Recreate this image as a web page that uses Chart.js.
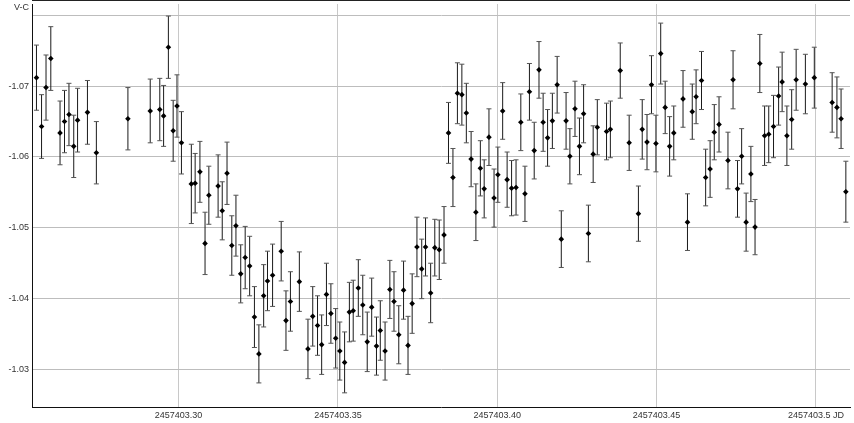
<!DOCTYPE html>
<html>
<head>
<meta charset="utf-8">
<title>V-C light curve</title>
<script src="https://cdn.jsdelivr.net/npm/chart.js@4.4.1/dist/chart.umd.min.js"></script>
<style>
  html, body { margin: 0; padding: 0; background: #fff; }
  #wrap { width: 854px; height: 423px; }
</style>
</head>
<body>
<div id="wrap"><canvas id="lc" width="854" height="423"></canvas></div>
<script>
// V-C differential magnitudes against JD, with error bars.
// Values.

const JD = [
  2457403.2554, 2457403.2570, 2457403.2584, 2457403.2599, 2457403.2628, 2457403.2642, 2457403.2656, 2457403.2671,
  2457403.2683, 2457403.2714, 2457403.2742, 2457403.2841, 2457403.2911, 2457403.2941, 2457403.2953, 2457403.2968,
  2457403.2983, 2457403.2995, 2457403.3009, 2457403.3040, 2457403.3052, 2457403.3067, 2457403.3083, 2457403.3095,
  2457403.3124, 2457403.3137, 2457403.3152, 2457403.3167, 2457403.3180, 2457403.3195, 2457403.3209, 2457403.3223,
  2457403.3238, 2457403.3252, 2457403.3267, 2457403.3279, 2457403.3295, 2457403.3322, 2457403.3337, 2457403.3351,
  2457403.3379, 2457403.3406, 2457403.3421, 2457403.3436, 2457403.3449, 2457403.3464, 2457403.3478, 2457403.3493,
  2457403.3506, 2457403.3521, 2457403.3536, 2457403.3548, 2457403.3564, 2457403.3578, 2457403.3592, 2457403.3606,
  2457403.3621, 2457403.3633, 2457403.3648, 2457403.3663, 2457403.3676, 2457403.3691, 2457403.3706, 2457403.3720,
  2457403.3733, 2457403.3748, 2457403.3763, 2457403.3775, 2457403.3791, 2457403.3804, 2457403.3818, 2457403.3833,
  2457403.3847, 2457403.3861, 2457403.3875, 2457403.3889, 2457403.3903, 2457403.3918, 2457403.3933, 2457403.3947,
  2457403.3959, 2457403.3974, 2457403.3990, 2457403.4002, 2457403.4017, 2457403.4031, 2457403.4045, 2457403.4059,
  2457403.4074, 2457403.4087, 2457403.4101, 2457403.4116, 2457403.4131, 2457403.4144, 2457403.4158, 2457403.4173,
  2457403.4188, 2457403.4201, 2457403.4216, 2457403.4228, 2457403.4244, 2457403.4258, 2457403.4271, 2457403.4286,
  2457403.4301, 2457403.4314, 2457403.4343, 2457403.4355, 2457403.4386, 2457403.4414, 2457403.4443, 2457403.4455,
  2457403.4470, 2457403.4484, 2457403.4498, 2457403.4513, 2457403.4527, 2457403.4541, 2457403.4554, 2457403.4583,
  2457403.4597, 2457403.4612, 2457403.4624, 2457403.4641, 2457403.4654, 2457403.4668, 2457403.4681, 2457403.4696,
  2457403.4724, 2457403.4740, 2457403.4754, 2457403.4767, 2457403.4781, 2457403.4796, 2457403.4809, 2457403.4824,
  2457403.4839, 2457403.4852, 2457403.4867, 2457403.4883, 2457403.4894, 2457403.4909, 2457403.4924, 2457403.4938,
  2457403.4967, 2457403.4995, 2457403.5051, 2457403.5066, 2457403.5079, 2457403.5094
];

const VC = [
  -1.0712, -1.0643, -1.0698, -1.0739, -1.0634, -1.0650, -1.0660, -1.0615,
  -1.0652, -1.0663, -1.0606, -1.0654, -1.0665, -1.0667, -1.0658, -1.0755,
  -1.0637, -1.0672, -1.0620, -1.0562, -1.0563, -1.0579, -1.0478, -1.0546,
  -1.0559, -1.0524, -1.0577, -1.0475, -1.0503, -1.0435, -1.0458, -1.0446,
  -1.0374, -1.0322, -1.0404, -1.0425, -1.0433, -1.0467, -1.0369, -1.0396,
  -1.0424, -1.0329, -1.0375, -1.0362, -1.0335, -1.0406, -1.0379, -1.0344,
  -1.0326, -1.0310, -1.0381, -1.0383, -1.0415, -1.0391, -1.0339, -1.0388,
  -1.0333, -1.0355, -1.0326, -1.0413, -1.0396, -1.0349, -1.0412, -1.0334,
  -1.0393, -1.0473, -1.0442, -1.0473, -1.0408, -1.0472, -1.0469, -1.0490,
  -1.0634, -1.0571, -1.0690, -1.0688, -1.0662, -1.0597, -1.0522, -1.0584,
  -1.0555, -1.0628, -1.0542, -1.0575, -1.0665, -1.0568, -1.0556, -1.0557,
  -1.0649, -1.0548, -1.0692, -1.0609, -1.0723, -1.0649, -1.0627, -1.0651,
  -1.0702, -1.0484, -1.0651, -1.0601, -1.0668, -1.0615, -1.0661, -1.0492,
  -1.0604, -1.0642, -1.0636, -1.0639, -1.0722, -1.0620, -1.0520, -1.0639,
  -1.0621, -1.0702, -1.0619, -1.0746, -1.0670, -1.0615, -1.0634, -1.0682,
  -1.0508, -1.0664, -1.0685, -1.0708, -1.0571, -1.0583, -1.0635, -1.0646,
  -1.0595, -1.0709, -1.0555, -1.0601, -1.0508, -1.0576, -1.0501, -1.0732,
  -1.0630, -1.0632, -1.0643, -1.0686, -1.0706, -1.0630, -1.0653, -1.0709,
  -1.0703, -1.0712, -1.0677, -1.0670, -1.0654, -1.0551
];

const ERR = [
  0.0046, 0.0045, 0.0046, 0.0045, 0.0045, 0.0044, 0.0044, 0.0044,
  0.0045, 0.0045, 0.0044, 0.0044, 0.0045, 0.0044, 0.0043, 0.0044,
  0.0043, 0.0044, 0.0044, 0.0056, 0.0042, 0.0043, 0.0044, 0.0041,
  0.0044, 0.0041, 0.0044, 0.0042, 0.0043, 0.0041, 0.0044, 0.0042,
  0.0043, 0.0041, 0.0044, 0.0042, 0.0044, 0.0042, 0.0042, 0.0042,
  0.0042, 0.0042, 0.0042, 0.0042, 0.0042, 0.0044, 0.0042, 0.0042,
  0.0041, 0.0043, 0.0042, 0.0043, 0.0040, 0.0042, 0.0042, 0.0041,
  0.0041, 0.0042, 0.0041, 0.0041, 0.0042, 0.0041, 0.0041, 0.0041,
  0.0042, 0.0042, 0.0042, 0.0041, 0.0042, 0.0040, 0.0042, 0.0040,
  0.0043, 0.0041, 0.0043, 0.0043, 0.0042, 0.0039, 0.0040, 0.0039,
  0.0041, 0.0040, 0.0041, 0.0039, 0.0040, 0.0039, 0.0039, 0.0039,
  0.0040, 0.0039, 0.0040, 0.0040, 0.0040, 0.0041, 0.0040, 0.0039,
  0.0040, 0.0040, 0.0040, 0.0039, 0.0039, 0.0040, 0.0041, 0.0040,
  0.0040, 0.0039, 0.0040, 0.0040, 0.0039, 0.0039, 0.0039, 0.0042,
  0.0039, 0.0041, 0.0040, 0.0043, 0.0037, 0.0042, 0.0038, 0.0040,
  0.0040, 0.0039, 0.0038, 0.0041, 0.0040, 0.0040, 0.0039, 0.0039,
  0.0040, 0.0041, 0.0040, 0.0039, 0.0041, 0.0039, 0.0039, 0.0041,
  0.0042, 0.0040, 0.0044, 0.0041, 0.0042, 0.0042, 0.0042, 0.0043,
  0.0042, 0.0043, 0.0042, 0.0043, 0.0042, 0.0043
];

const X_TICKS = [2457403.30, 2457403.35, 2457403.40, 2457403.45, 2457403.50];
const X_TICK_LABELS = ['2457403.30', '2457403.35', '2457403.40', '2457403.45', '2457403.5 JD'];
const Y_TICKS = [-1.08, -1.07, -1.06, -1.05, -1.04, -1.03];
const Y_TICK_LABELS = ['', '-1.07', '-1.06', '-1.05', '-1.04', '-1.03'];
const Y_TITLE = 'V-C';

const X_MIN = 2457403.2540, X_MAX = 2457403.5107;
const Y_MIN = -1.0816, Y_MAX = -1.0247;

Chart.defaults.font.family = "'Liberation Sans', Arial, sans-serif";
Chart.defaults.font.size = 9;
Chart.defaults.color = '#333';

// vertical error bars with small caps, drawn under the markers
const errorBars = {
  id: 'errorBars',
  beforeDatasetsDraw(chart) {
    const { ctx, chartArea: a, scales: { x, y } } = chart;
    ctx.save();
    ctx.beginPath();
    ctx.rect(a.left, a.top, a.right - a.left, a.bottom - a.top);
    ctx.clip();
    ctx.lineWidth = 1;
    JD.forEach((t, i) => {
      const px = x.getPixelForValue(t);
      const y0 = y.getPixelForValue(VC[i] - ERR[i]);
      const y1 = y.getPixelForValue(VC[i] + ERR[i]);
      ctx.strokeStyle = '#1a1a1a';
      ctx.beginPath();
      ctx.moveTo(px, y0);
      ctx.lineTo(px, y1);
      ctx.stroke();
      ctx.strokeStyle = '#555';
      ctx.beginPath();
      ctx.moveTo(px - 2.5, y0); ctx.lineTo(px + 2.5, y0);
      ctx.moveTo(px - 2.5, y1); ctx.lineTo(px + 2.5, y1);
      ctx.stroke();
    });
    ctx.restore();
  },
  afterDraw(chart) {
    const { ctx, chartArea: a } = chart;
    ctx.save();
    ctx.strokeStyle = '#222';
    ctx.lineWidth = 1;
    ctx.beginPath();
    ctx.moveTo(a.left, 0.5);
    ctx.lineTo(a.right, 0.5);
    ctx.stroke();
    ctx.fillStyle = '#333';
    ctx.font = "9px 'Liberation Sans', Arial, sans-serif";
    ctx.textAlign = 'right';
    ctx.textBaseline = 'middle';
    ctx.fillText(Y_TITLE, a.left - 3, 8);
    ctx.restore();
  }
};

new Chart(document.getElementById('lc'), {
  type: 'scatter',
  data: {
    datasets: [{
      data: JD.map((t, i) => ({ x: t, y: VC[i] })),
      pointStyle: 'rectRot',
      pointRadius: 2.8,
      pointBackgroundColor: '#000',
      pointBorderColor: '#000',
      pointBorderWidth: 0
    }]
  },
  options: {
    responsive: false,
    animation: false,
    layout: { padding: 0 },
    plugins: { legend: { display: false }, tooltip: { enabled: false } },
    scales: {
      x: {
        type: 'linear',
        min: X_MIN,
        max: X_MAX,
        afterBuildTicks: s => { s.ticks = X_TICKS.map(v => ({ value: v })); },
        afterFit: s => { s.height = 16; s.paddingLeft = 0; s.paddingRight = 0; },
        ticks: { autoSkip: false, maxRotation: 0, padding: 3, callback: (v, i) => X_TICK_LABELS[i] },
        grid: { color: '#c8c8c8', drawTicks: false },
        border: { color: '#111', width: 1 }
      },
      y: {
        type: 'linear',
        reverse: true,
        min: Y_MIN,
        max: Y_MAX,
        afterBuildTicks: s => { s.ticks = Y_TICKS.map(v => ({ value: v })); },
        afterFit: s => { s.width = 32; s.paddingTop = 0; s.paddingBottom = 0; },
        ticks: { padding: 3, callback: (v, i) => Y_TICK_LABELS[i] },
        grid: { color: '#bdbdbd', drawTicks: false },
        border: { color: '#111', width: 1 }
      }
    }
  },
  plugins: [errorBars]
});
</script>
</body>
</html>
